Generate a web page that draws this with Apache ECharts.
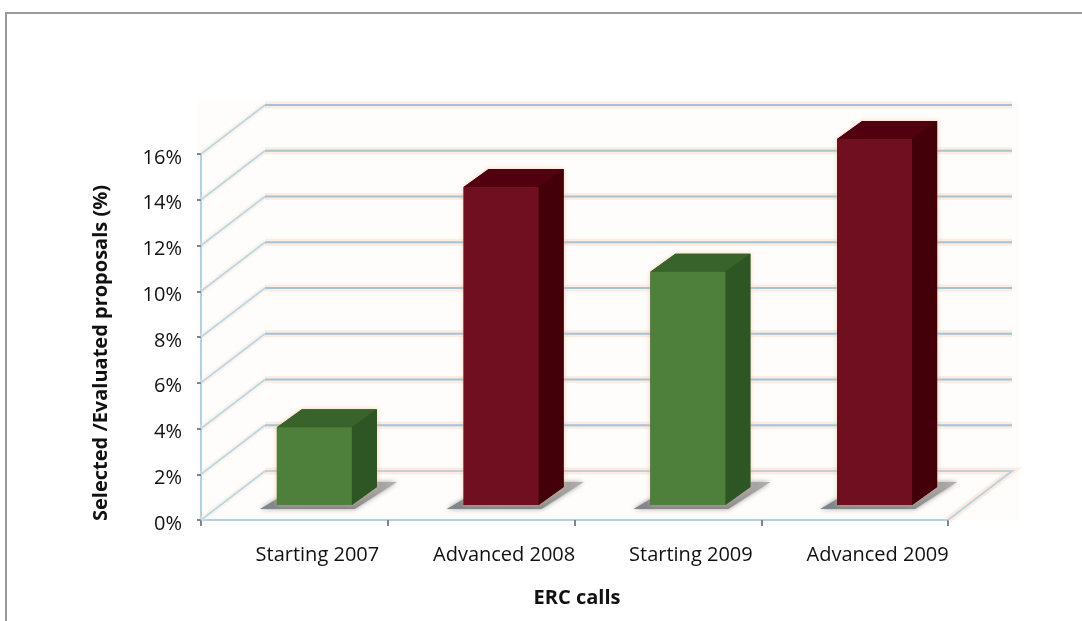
<!DOCTYPE html>
<html><head><meta charset="utf-8">
<style>html,body{margin:0;padding:0;background:#fff}#c{width:1082px;height:621px}</style>
<script src="https://cdn.jsdelivr.net/npm/echarts@6/dist/echarts.min.js"></script>
</head><body><div id="c"></div>
<script>
const categories = ['Starting 2007','Advanced 2008','Starting 2009','Advanced 2009'];
const values = [3.4,13.9,10.2,16.0];
const barKinds = [0,1,0,1];
const gridValues = [0,2,4,6,8,10,12,14,16];
const frontColors = ['#4e7f3b','#6f0f20'];
const topColors = ['#38632a','#50000f'];
const sideColors = ['#2e5524','#430008'];
const font = '"Open Sans","Noto Sans",sans-serif';
const depth = {x:64,y:-49};
const barOff = {x:20,y:-15};
const barDepth = {x:25,y:-18};
const halfW = 37.5;

const chart = echarts.init(document.getElementById('c'),null,{renderer:'canvas'});
function gridItem(params,api){
  const cs = params.coordSys;
  const v = api.value(0);
  const y = api.coord([0,v])[1];
  const x0 = cs.x, x1 = cs.x+cs.width;
  const bx0 = x0+depth.x, bx1 = x1+depth.x, by = y+depth.y;
  const wall = [[x0,y],[bx0,by]];
  const back = v===0 ? [[bx0,by],[bx1,by],[x1,y]] : [[bx0,by],[bx1,by]];
  return {type:'group',children:[
    {type:'polyline',shape:{points:wall},style:{fill:null,stroke:'rgba(250,225,215,0.35)',lineWidth:6}},
    {type:'polyline',shape:{points:back},style:{fill:null,stroke:'rgba(250,215,195,0.45)',lineWidth:7}},
    {type:'polyline',shape:{points:wall},style:{fill:null,stroke:'#bcd8e6',lineWidth:2}},
    {type:'polyline',shape:{points:back},style:{fill:null,stroke:v===0?'#b9d3e0':'#a3c4d6',lineWidth:2}}
  ]};
}
function barItem(params,api){
  const i = api.value(0), v = api.value(1), k = barKinds[i];
  const c = api.coord([i,v]), b = api.coord([i,0]);
  const x0 = c[0]+barOff.x-halfW, x1 = c[0]+barOff.x+halfW;
  const yt = c[1]+barOff.y, yb = b[1]+barOff.y;
  const dx = barDepth.x, dy = barDepth.y;
  return {type:'group',children:[
    {type:'polygon',shape:{points:[[x0-17,yb+4],[x0,yb-6],[x1+dx,yb+dy-5],[x1+dx+20,yb+dy-5],[x1+3,yb+4]]},
      style:{fill:{type:'linear',x:0,y:1,x2:1,y2:0,colorStops:[{offset:0,color:'#7f878c'},{offset:0.6,color:'#80848a'},{offset:1,color:'#b4b0ac'}]},shadowBlur:5,shadowColor:'rgba(120,120,120,0.7)'}},
    {type:'polygon',shape:{points:[[x0,yt],[x0+dx,yt+dy],[x1+dx,yt+dy],[x1+dx,yb+dy],[x1,yb],[x0,yb]]},
      style:{fill:sideColors[k],shadowBlur:5,shadowColor:'rgba(240,185,145,0.7)'}},
    {type:'polygon',shape:{points:[[x0,yt],[x0+dx,yt+dy],[x1+dx,yt+dy],[x1,yt]]},style:{fill:topColors[k]}},
    {type:'polygon',shape:{points:[[x1,yt],[x1+dx,yt+dy],[x1+dx,yb+dy],[x1,yb]]},style:{fill:sideColors[k]}},
    {type:'rect',shape:{x:x0,y:yt,width:x1-x0,height:yb-yt},style:{fill:frontColors[k]}}
  ]};
}
chart.setOption({
  animation:false,
  backgroundColor:'#fff',
  graphic:[
    {type:'rect',z:-1,silent:true,shape:{x:6,y:13,width:1200,height:700},style:{fill:'#fff',stroke:'#9a9a9c',lineWidth:2}},
    {type:'rect',z:-1,silent:true,shape:{x:197,y:100,width:822,height:420},style:{fill:'#fffdfb'}}
  ],
  grid:{left:201,right:134,top:154,bottom:101,containLabel:false},
  xAxis:{type:'category',data:categories,name:'ERC calls',nameLocation:'middle',nameGap:68,
    nameTextStyle:{fontFamily:font,fontWeight:'bold',fontSize:20,color:'#111',padding:[0,0,0,5]},
    axisLine:{lineStyle:{color:'#b4cfdf',width:2}},
    axisTick:{show:true,alignWithLabel:false,length:6,lineStyle:{color:'#808488',width:2}},
    axisLabel:{fontFamily:font,fontSize:20,color:'#111',margin:25,padding:[0,0,0,46]},
    splitLine:{show:false}},
  yAxis:{type:'value',min:0,max:16,interval:2,name:'Selected /Evaluated proposals (%)',nameLocation:'middle',nameGap:90,
    nameTextStyle:{fontFamily:font,fontWeight:'bold',fontSize:20,color:'#111',padding:[0,32,0,0]},
    axisLine:{show:true,lineStyle:{color:'#b4cfdf',width:2}},
    axisTick:{show:true,length:4,lineStyle:{color:'#808488',width:2}},
    axisLabel:{fontFamily:font,fontSize:20,color:'#111',margin:19,verticalAlign:'top',lineHeight:8,formatter:(v)=>v+'%'},
    splitLine:{show:false}},
  series:[
    {type:'custom',name:'grid',silent:true,clip:false,z:1,renderItem:gridItem,data:gridValues.map(v=>[v]),encode:{y:0}},
    {type:'custom',name:'Selected/Evaluated',clip:false,z:2,renderItem:barItem,data:values.map((v,i)=>[i,v]),encode:{x:0,y:1}}
  ]
});
</script></body></html>
